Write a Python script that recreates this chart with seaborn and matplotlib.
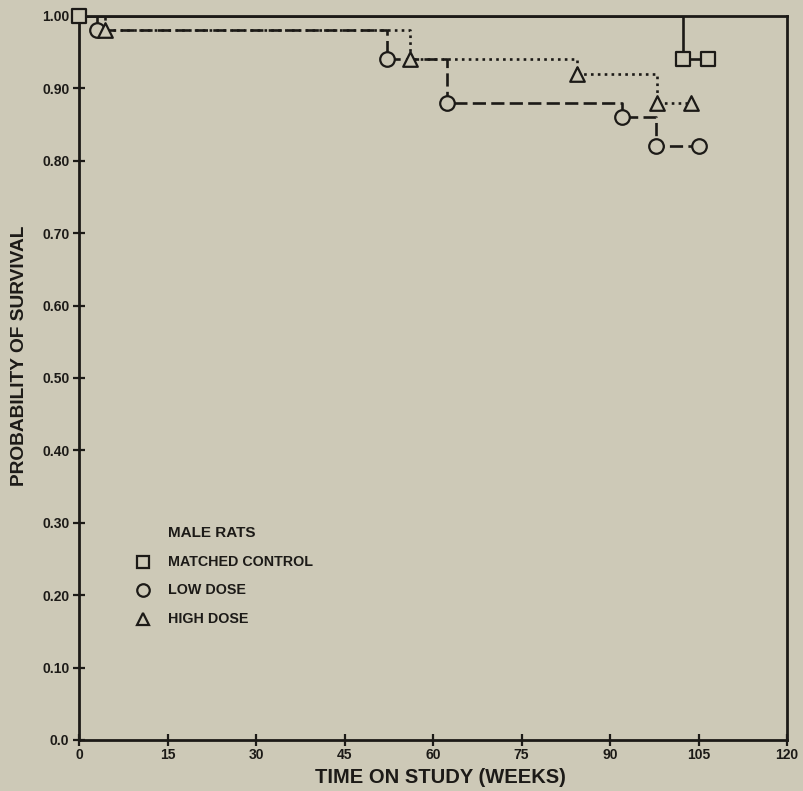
import matplotlib
matplotlib.use("Agg")
import matplotlib.pyplot as plt
import seaborn as sns
import pandas as pd

# Kaplan-Meier survival estimates, male rats
control_weeks = [0.0, 102.4, 106.6]
control_surv = [1.00, 0.94, 0.94]

low_weeks = [0.0, 3.1, 52.2, 62.4, 92.0, 97.8, 105.0]
low_surv = [1.00, 0.98, 0.94, 0.88, 0.86, 0.82, 0.82]

high_weeks = [0.0, 4.4, 56.1, 84.4, 98.0, 103.7]
high_surv = [1.00, 0.98, 0.94, 0.92, 0.88, 0.88]

x_ticks = [0, 15, 30, 45, 60, 75, 90, 105, 120]
y_ticks = [0.0, 0.1, 0.2, 0.3, 0.4, 0.5, 0.6, 0.7, 0.8, 0.9, 1.0]
y_tick_labels = ["0.0", "0.10", "0.20", "0.30", "0.40", "0.50",
                 "0.60", "0.70", "0.80", "0.90", "1.00"]

group_names = ["MATCHED CONTROL", "LOW DOSE", "HIGH DOSE"]

BG = "#cdc9b7"
INK = "#1c1a17"

sns.set_theme(style="white")
plt.rcParams["font.family"] = ["Liberation Sans", "DejaVu Sans"]
plt.rcParams["font.weight"] = "bold"

fig = plt.figure(figsize=(8.04, 7.91), dpi=100, facecolor=BG)
ax = fig.add_axes([0.0983, 0.0645, 0.8806, 0.9153])
ax.set_facecolor(BG)

groups = [
    (control_weeks, control_surv, "-", "s", 0),
    (low_weeks, low_surv, (0, (5, 2)), "o", 1),
    (high_weeks, high_surv, (0, (1, 1.6)), "^", 1),
]

for weeks, surv, ls, mk, first_mark in groups:
    df = pd.DataFrame({"week": weeks, "surv": surv})
    sns.lineplot(data=df, x="week", y="surv", ax=ax, color=INK,
                 linewidth=1.9, linestyle=ls, drawstyle="steps-post",
                 estimator=None, sort=False, zorder=2)

for weeks, surv, ls, mk, first_mark in groups:
    df = pd.DataFrame({"week": weeks[first_mark:], "surv": surv[first_mark:]})
    sns.scatterplot(data=df, x="week", y="surv", ax=ax, marker=mk,
                    s=110, facecolor=BG, edgecolor=INK, linewidth=1.6,
                    zorder=4, clip_on=False)

ax.set_xlim(0, 120)
ax.set_ylim(0, 1.0)
ax.set_xticks(x_ticks)
ax.set_xticklabels([str(t) for t in x_ticks])
ax.set_yticks(y_ticks)
ax.set_yticklabels(y_tick_labels)

for side in ["left", "bottom", "top", "right"]:
    ax.spines[side].set_visible(True)
    ax.spines[side].set_color(INK)
    ax.spines[side].set_linewidth(2.0)

ax.tick_params(axis="both", which="major", bottom=True, left=True,
               top=False, right=False, direction="inout", length=8,
               width=1.6, color=INK, labelcolor=INK, labelsize=10)
ax.tick_params(axis="x", pad=2)
ax.tick_params(axis="y", pad=3)
for lab in ax.get_xticklabels() + ax.get_yticklabels():
    lab.set_fontweight("bold")

ax.set_xlabel("TIME ON STUDY (WEEKS)", fontsize=14.5, fontweight="bold",
              color=INK, labelpad=4, x=0.51)
ax.set_ylabel("PROBABILITY OF SURVIVAL", fontsize=13.8, fontweight="bold",
              color=INK, labelpad=10, y=0.53)

# Legend block drawn inside the plot area
ax.text(0.1257, 0.286, "MALE RATS", transform=ax.transAxes, fontsize=11,
        fontweight="bold", color=INK, va="center", ha="left")
legend_y = [0.246, 0.207, 0.167]
for name, y, (_, _, _, mk, _) in zip(group_names, legend_y, groups):
    ax.plot([0.0904], [y], transform=ax.transAxes, marker=mk, markersize=9,
            markerfacecolor="none", markeredgecolor=INK, markeredgewidth=1.6,
            linestyle="none")
    ax.text(0.1257, y, name, transform=ax.transAxes, fontsize=10.3,
            fontweight="bold", color=INK, va="center", ha="left")

fig.savefig("out.png", dpi=100, facecolor=BG)
